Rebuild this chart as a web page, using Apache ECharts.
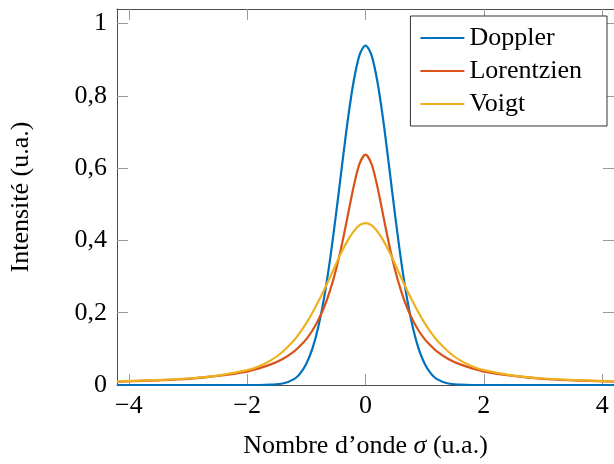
<!DOCTYPE html>
<html>
<head>
<meta charset="utf-8">
<script src="https://cdn.jsdelivr.net/npm/echarts@6/dist/echarts.min.js"></script>
<style>
  html, body { margin: 0; padding: 0; background: #fff; }
  #chart { width: 614px; height: 464px; }
</style>
</head>
<body>
<div id="chart"></div>
<script>
// nombre d'onde (u.a.)
const sigma = [-4.2, -3.5, -3, -2.5, -2, -1.8, -1.6, -1.4, -1.2, -1.1, -1, -0.9, -0.8, -0.7, -0.6, -0.5, -0.4, -0.3, -0.2, -0.1,
  0, 0.1, 0.2, 0.3, 0.4, 0.5, 0.6, 0.7, 0.8, 0.9, 1, 1.1, 1.2, 1.4, 1.6, 1.8, 2, 2.5, 3, 3.5, 4.2];
const doppler = [0, 0, 0, 0, 0, 0, 0.001, 0.004, 0.017, 0.033, 0.059, 0.099, 0.159, 0.241, 0.346, 0.470, 0.603, 0.732, 0.840, 0.913,
  0.939, 0.913, 0.840, 0.732, 0.603, 0.470, 0.346, 0.241, 0.159, 0.099, 0.059, 0.033, 0.017, 0.004, 0.001, 0, 0, 0, 0, 0, 0];
const lorentzien = [0.009, 0.013, 0.017, 0.025, 0.037, 0.046, 0.057, 0.072, 0.094, 0.109, 0.127, 0.150, 0.179, 0.215, 0.261, 0.318, 0.388, 0.468, 0.549, 0.612,
  0.637, 0.612, 0.549, 0.468, 0.388, 0.318, 0.261, 0.215, 0.179, 0.150, 0.127, 0.109, 0.094, 0.072, 0.057, 0.046, 0.037, 0.025, 0.017, 0.013, 0.009];
const voigt = [0.010, 0.014, 0.018, 0.026, 0.041, 0.052, 0.068, 0.092, 0.125, 0.147, 0.171, 0.199, 0.230, 0.263, 0.298, 0.334, 0.369, 0.400, 0.425, 0.442,
  0.448, 0.442, 0.425, 0.400, 0.369, 0.334, 0.298, 0.263, 0.230, 0.199, 0.171, 0.147, 0.125, 0.092, 0.068, 0.052, 0.041, 0.026, 0.018, 0.014, 0.010];
const xTicks = [-4, -2, 0, 2, 4];
const yTicks = [0, 0.2, 0.4, 0.6, 0.8, 1];

const font = '"Liberation Serif", "DejaVu Serif", serif';
const pairs = (ys) => sigma.map((x, i) => [x, ys[i]]);

const chart = echarts.init(document.getElementById('chart'));

const tickStyle = { show: true, inside: true, length: 11, lineStyle: { color: '#9a9a9a', width: 1 } };
const lineStyleAxe = { show: true, onZero: false, lineStyle: { color: '#4d4d4d', width: 1 } };

const ligne = (name, ys, color) => ({
  name: name,
  type: 'line',
  data: pairs(ys),
  showSymbol: false,
  smooth: 0.3,
  clip: false,
  lineStyle: { color: color, width: 2.2 },
  itemStyle: { color: color }
});

chart.setOption({
  animation: false,
  grid: { left: 113, top: 9, right: -3, bottom: 77 },
  legend: {
    orient: 'vertical',
    right: 7,
    top: 16,
    padding: [7, 25, 7, 10],
    itemGap: 3,
    itemWidth: 44,
    itemHeight: 2,
    icon: 'rect',
    backgroundColor: '#fff',
    borderColor: '#333',
    borderWidth: 1,
    borderRadius: 0,
    textStyle: { fontFamily: font, fontSize: 26, color: '#000', lineHeight: 30 },
    data: ['Doppler', 'Lorentzien', 'Voigt']
  },
  xAxis: [{
    type: 'value',
    min: -4.2,
    max: 4.2,
    position: 'bottom',
    name: 'Nombre d\u2019onde {i|\u03c3} (u.a.)',
    nameLocation: 'middle',
    nameGap: 48,
    nameTextStyle: {
      fontFamily: font, fontSize: 26, color: '#000',
      rich: { i: { fontFamily: font, fontSize: 26, fontStyle: 'italic', color: '#000' } }
    },
    axisLine: lineStyleAxe,
    axisTick: Object.assign({ customValues: xTicks }, tickStyle),
    axisLabel: {
      customValues: xTicks,
      margin: 8,
      fontFamily: font, fontSize: 26, color: '#000',
      formatter: (v) => String(v).replace('-', '\u2212')
    },
    splitLine: { show: false }
  }, {
    type: 'value',
    min: -4.2,
    max: 4.2,
    position: 'top',
    axisLine: lineStyleAxe,
    axisTick: Object.assign({ customValues: xTicks }, tickStyle),
    axisLabel: { show: false },
    splitLine: { show: false }
  }],
  yAxis: [{
    type: 'value',
    min: 0,
    max: 1.04,
    position: 'left',
    name: 'Intensit\u00e9 (u.a.)',
    nameLocation: 'middle',
    nameGap: 83,
    nameTextStyle: { fontFamily: font, fontSize: 26, color: '#000' },
    axisLine: lineStyleAxe,
    axisTick: Object.assign({ customValues: yTicks }, tickStyle),
    axisLabel: {
      customValues: yTicks,
      margin: 10,
      fontFamily: font, fontSize: 26, color: '#000',
      formatter: (v) => String(v).replace('.', ',')
    },
    splitLine: { show: false }
  }, {
    type: 'value',
    min: 0,
    max: 1.04,
    position: 'right',
    axisLine: lineStyleAxe,
    axisTick: Object.assign({ customValues: yTicks }, tickStyle),
    axisLabel: { show: false },
    splitLine: { show: false }
  }],
  series: [
    ligne('Doppler', doppler, '#0072bd'),
    ligne('Lorentzien', lorentzien, '#d95319'),
    ligne('Voigt', voigt, '#edb120')
  ]
});
</script>
</body>
</html>
